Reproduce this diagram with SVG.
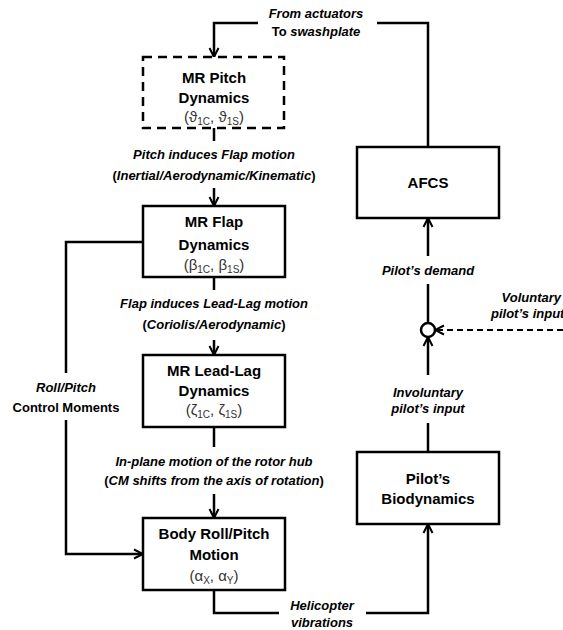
<svg xmlns="http://www.w3.org/2000/svg" width="563" height="630" viewBox="0 0 563 630">
<defs>
<marker id="arr" viewBox="0 0 12 12" refX="11" refY="6" markerWidth="12" markerHeight="12" markerUnits="userSpaceOnUse" orient="auto">
<path d="M2,1.5 L11,6 L2,10.5" fill="none" stroke="#000" stroke-width="2"/>
</marker>
<style>
.box{fill:#fff;stroke:#000;stroke-width:2.5}
.dash{fill:#fff;stroke:#000;stroke-width:2.5;stroke-dasharray:9 6}
.ln{fill:none;stroke:#000;stroke-width:2.5}
.dl{fill:none;stroke:#000;stroke-width:2;stroke-dasharray:6 4}
text{font-family:"Liberation Sans",Arial,sans-serif;text-anchor:middle;fill:#000}
.t{font-size:15px;font-weight:bold}
.g{font-size:15px;fill:#333}
.s{font-size:10px}
.l{font-size:13px;font-weight:bold;font-style:italic}
.u{font-style:normal}
</style>
</defs>

<g id="connectors">
<path class="ln" d="M428,147 V23 H377"/>
<path class="ln" d="M258,23 H214 V57" marker-end="url(#arr)"/>
<path class="ln" d="M214,128 V141"/>
<path class="ln" d="M214,188 V206" marker-end="url(#arr)"/>
<path class="ln" d="M214,277 V290"/>
<path class="ln" d="M214,340 V355" marker-end="url(#arr)"/>
<path class="ln" d="M214,427 V447"/>
<path class="ln" d="M214,494 V518" marker-end="url(#arr)"/>
<path class="ln" d="M143,242 H66 V373"/>
<path class="ln" d="M66,420 V554 H143" marker-end="url(#arr)"/>
<path class="ln" d="M214,590 V613 H279"/>
<path class="ln" d="M366,613 H428 V524" marker-end="url(#arr)"/>
<path class="ln" d="M428,452 V423"/>
<path class="ln" d="M428,375 V337" marker-end="url(#arr)"/>
<path class="ln" d="M428,323 V284"/>
<path class="ln" d="M428,256 V218" marker-end="url(#arr)"/>
<path class="dl" d="M563,330 H435" marker-end="url(#arr)"/>
<circle id="sum" cx="428" cy="330" r="7" fill="#fff" stroke="#000" stroke-width="2.5"/>
</g>

<g id="labels">
<text class="l" x="316" y="18">From actuators</text>
<text class="l" x="316" y="36"><tspan class="u">To</tspan> swashplate</text>
<text class="l" x="214" y="159">Pitch induces Flap motion</text>
<text class="l" x="214" y="180"><tspan class="u">(</tspan>Inertial/Aerodynamic/Kinematic<tspan class="u">)</tspan></text>
<text class="l" x="214" y="308">Flap induces Lead-Lag motion</text>
<text class="l" x="214" y="329"><tspan class="u">(</tspan>Coriolis/Aerodynamic<tspan class="u">)</tspan></text>
<text class="l" x="214" y="466">In-plane motion of the rotor hub</text>
<text class="l" x="214" y="485"><tspan class="u">(</tspan>CM shifts from the axis of rotation<tspan class="u">)</tspan></text>
<text class="l" x="66" y="392">Roll/Pitch</text>
<text class="l" x="66" y="412"><tspan class="u">Control Moments</tspan></text>
<text class="l" x="322" y="610">Helicopter</text>
<text class="l" x="322" y="627">vibrations</text>
<text class="l" x="428" y="275">Pilot’s demand</text>
<text class="l" x="561" y="302" style="text-anchor:end">Voluntary</text>
<text class="l" x="491" y="318" style="text-anchor:start">pilot’s input</text>
<text class="l" x="428" y="397">Involuntary</text>
<text class="l" x="428" y="413">pilot’s input</text>
</g>

<g id="pitch">
<rect class="dash" x="143" y="57" width="141" height="71"/>
<text class="t" x="214" y="83">MR Pitch</text>
<text class="t" x="214" y="103">Dynamics</text>
<text class="g" x="214" y="122">(ϑ<tspan class="s" dy="3">1C</tspan><tspan dy="-3">, ϑ</tspan><tspan class="s" dy="3">1S</tspan><tspan dy="-3">)</tspan></text>
</g>

<g id="flap">
<rect class="box" x="143" y="206" width="142" height="71"/>
<text class="t" x="214" y="227">MR Flap</text>
<text class="t" x="214" y="250">Dynamics</text>
<text class="g" x="214" y="270">(β<tspan class="s" dy="3">1C</tspan><tspan dy="-3">, β</tspan><tspan class="s" dy="3">1S</tspan><tspan dy="-3">)</tspan></text>
</g>

<g id="leadlag">
<rect class="box" x="143" y="355" width="142" height="72"/>
<text class="t" x="214" y="376">MR Lead-Lag</text>
<text class="t" x="214" y="396">Dynamics</text>
<text class="g" x="214" y="415">(ζ<tspan class="s" dy="3">1C</tspan><tspan dy="-3">, ζ</tspan><tspan class="s" dy="3">1S</tspan><tspan dy="-3">)</tspan></text>
</g>

<g id="body">
<rect class="box" x="143" y="518" width="142" height="72"/>
<text class="t" x="214" y="539">Body Roll/Pitch</text>
<text class="t" x="214" y="560">Motion</text>
<text class="g" x="214" y="581">(α<tspan class="s" dy="3">X</tspan><tspan dy="-3">, α</tspan><tspan class="s" dy="3">Y</tspan><tspan dy="-3">)</tspan></text>
</g>

<g id="afcs">
<rect class="box" x="357" y="147" width="142" height="71"/>
<text class="t" x="428" y="188">AFCS</text>
</g>

<g id="biodynamics">
<rect class="box" x="357" y="452" width="142" height="72"/>
<text class="t" x="428" y="484">Pilot’s</text>
<text class="t" x="428" y="504">Biodynamics</text>
</g>
</svg>
